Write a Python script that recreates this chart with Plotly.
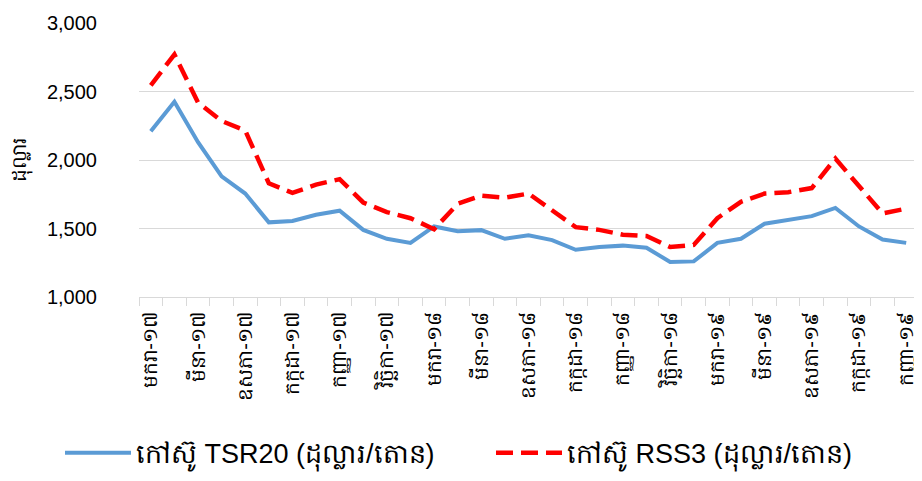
import plotly.graph_objects as go

months = ["មករា", "កុម្ភៈ", "មីនា", "មេសា", "ឧសភា", "មិថុនា",
          "កក្កដា", "សីហា", "កញ្ញា", "តុលា", "វិច្ឆិកា", "ធ្នូ"]
years = ["១៧", "១៨", "១៩"]
categories = [f"{m}-{y}" for y in years for m in months][:33]

tsr20 = [2210, 2425, 2130, 1880, 1755, 1545, 1555, 1600, 1630, 1490, 1425,
         1395, 1515, 1480, 1488, 1425, 1450, 1415, 1345, 1365, 1375, 1360,
         1255, 1260, 1395, 1425, 1535, 1565, 1590, 1650, 1515, 1420, 1395]
rss3 = [2545, 2770, 2420, 2285, 2215, 1830, 1760, 1820, 1860, 1690, 1620,
        1575, 1495, 1680, 1740, 1725, 1755, 1635, 1510, 1490, 1455, 1445,
        1365, 1380, 1575, 1695, 1755, 1765, 1795, 2010, 1815, 1610, 1645]

name_tsr = "កៅស៊ូ TSR20 (ដុល្លារ/តោន)"
name_rss = "កៅស៊ូ RSS3 (ដុល្លារ/តោន)"
y_title = "ដុល្លារ"
y_ticks = [1000, 1500, 2000, 2500, 3000]

ticktext = [c if i % 2 == 0 else "" for i, c in enumerate(categories)]

fig = go.Figure()
fig.add_trace(go.Scatter(x=categories, y=tsr20, mode="lines", name=name_tsr,
                         line=dict(color="#5B9BD5", width=4)))
fig.add_trace(go.Scatter(x=categories, y=rss3, mode="lines", name=name_rss,
                         line=dict(color="#FF0000", width=4.5, dash="17px,8px")))

fig.update_layout(
    width=914, height=473,
    margin=dict(l=131, r=4, t=15, b=182),
    plot_bgcolor="white", paper_bgcolor="white",
    font=dict(family="Liberation Sans, Noto Sans, DejaVu Sans", color="#000000"),
    showlegend=True,
    legend=dict(orientation="h", x=-0.0996, xanchor="left", y=-0.57, yanchor="middle",
                font=dict(size=27, family="Liberation Sans, Noto Sans"),
                entrywidth=350, entrywidthmode="pixels", itemwidth=66,
                bgcolor="rgba(0,0,0,0)"),
    xaxis=dict(type="category", tickmode="array", tickvals=categories, ticktext=ticktext,
               tickson="boundaries", ticks="outside", ticklen=8, tickcolor="#d9d9d9",
               showline=True, linecolor="#d9d9d9", linewidth=1, showgrid=False,
               tickangle=-90, tickfont=dict(size=20), ticklabelstandoff=6,
               range=[-0.5, 32.5]),
    yaxis=dict(range=[1000, 3000], tickvals=y_ticks, tickformat=",d",
               showgrid=True, gridcolor="#d9d9d9", gridwidth=1, zeroline=False,
               ticks="", ticklabelstandoff=41, tickfont=dict(size=20),
               title=dict(text=y_title, font=dict(size=20), standoff=15)),
)

fig.write_html("out.html")
